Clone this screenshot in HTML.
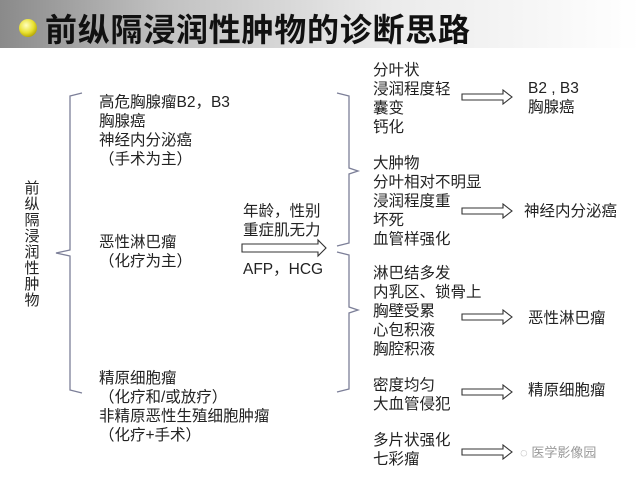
<!DOCTYPE html>
<html><head><meta charset="utf-8"><style>
body{margin:0;width:640px;height:480px;overflow:hidden;background:#fff}
svg text{font-family:"Liberation Sans","Noto Sans CJK SC",sans-serif;fill:#222}
</style></head><body>
<svg width="640" height="480" xmlns="http://www.w3.org/2000/svg">
<defs>
<linearGradient id="g" x1="0" x2="1" y1="0" y2="0">
<stop offset="0" stop-color="#8a8a8a"/><stop offset="0.25" stop-color="#c0c0c0"/><stop offset="0.6" stop-color="#eaeaea"/><stop offset="1" stop-color="#ffffff"/></linearGradient>
<radialGradient id="y" cx="0.4" cy="0.35" r="0.7"><stop offset="0" stop-color="#ffffc0"/><stop offset="0.6" stop-color="#e8e030"/><stop offset="1" stop-color="#b0a000"/></radialGradient>
</defs>
<rect x="0" y="0" width="640" height="48" fill="url(#g)"/>
<circle cx="28" cy="28" r="9" fill="url(#y)"/>
<text x="45" y="41" font-size="32" font-weight="bold" textLength="425" style="fill:#111">前纵隔浸润性肿物的诊断思路</text>

<g font-size="15" text-anchor="middle">
<text x="32" y="193">前</text><text x="32" y="209">纵</text><text x="32" y="225">隔</text><text x="32" y="241">浸</text><text x="32" y="257">润</text><text x="32" y="273">性</text><text x="32" y="289">肿</text><text x="32" y="305">物</text>
</g>

<g fill="none" stroke="#7c7f98" stroke-width="1.3">
<path d="M82 93 L70 96 L70 250 L56 253 L70 256 L70 390 L82 393"/>
<path d="M337 93 L349 96 L349 168 L358 171 L349 174 L349 243 L337 246"/>
<path d="M337 252 L349 255 L349 307 L358 310 L349 313 L349 389 L337 392"/>
</g>

<g font-size="15.5">
<text x="99" y="107">高危胸腺瘤B2，B3</text>
<text x="99" y="126">胸腺癌</text>
<text x="99" y="145">神经内分泌癌</text>
<text x="99" y="164">（手术为主）</text>
<text x="99" y="247">恶性淋巴瘤</text>
<text x="99" y="266">（化疗为主）</text>
<text x="99" y="383">精原细胞瘤</text>
<text x="99" y="402">（化疗和/或放疗）</text>
<text x="99" y="421">非精原恶性生殖细胞肿瘤</text>
<text x="99" y="440">（化疗+手术）</text>

<text x="243" y="216">年龄，性别</text>
<text x="243" y="235">重症肌无力</text>
<text x="243" y="274">AFP，HCG</text>

<text x="373" y="75">分叶状</text><text x="373" y="94">浸润程度轻</text><text x="373" y="113">囊变</text><text x="373" y="132">钙化</text>
<text x="373" y="168">大肿物</text><text x="373" y="187">分叶相对不明显</text><text x="373" y="206">浸润程度重</text><text x="373" y="225">坏死</text><text x="373" y="244">血管样强化</text>
<text x="373" y="278">淋巴结多发</text><text x="373" y="297">内乳区、锁骨上</text><text x="373" y="316">胸壁受累</text><text x="373" y="335">心包积液</text><text x="373" y="354">胸腔积液</text>
<text x="373" y="390">密度均匀</text><text x="373" y="409">大血管侵犯</text>
<text x="373" y="445">多片状强化</text><text x="373" y="464">七彩瘤</text>

<text x="528" y="93">B2 , B3</text><text x="528" y="112">胸腺癌</text>
<text x="524" y="216">神经内分泌癌</text>
<text x="528" y="323">恶性淋巴瘤</text>
<text x="528" y="395">精原细胞瘤</text>
</g>
<text x="520" y="457" font-size="13" style="fill:#999">◌ 医学影像园</text>

<g fill="#fff" stroke="#333" stroke-width="1.1">
<path d="M242 244 L318 244 L318 240 L326 248 L318 256 L318 252 L242 252 Z"/>
<path d="M462 94 L503 94 L503 90 L512 97 L503 104 L503 100 L462 100 Z"/>
<path d="M462 208 L503 208 L503 204 L512 211 L503 218 L503 214 L462 214 Z"/>
<path d="M462 314 L503 314 L503 310 L512 317 L503 324 L503 320 L462 320 Z"/>
<path d="M462 389 L503 389 L503 385 L512 392 L503 399 L503 395 L462 395 Z"/>
<path d="M462 449 L503 449 L503 445 L512 452 L503 459 L503 455 L462 455 Z"/>
</g>
</svg>
</body></html>
